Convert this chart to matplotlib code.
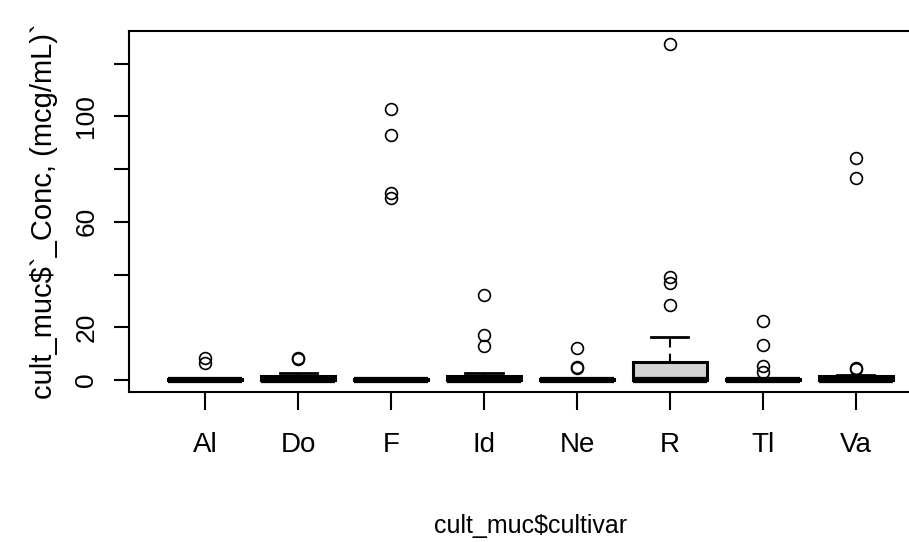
#Import Modules
import matplotlib
matplotlib.use("Agg")
import matplotlib.pyplot as plt

plt.rcParams['font.family'] = ['Liberation Sans', 'DejaVu Sans']

#Box statistics
cultivars = ["Al", "Do", "F", "Id", "Ne", "R", "Tl", "Va"]
q1 = [0, 0, 0, 0, 0, 0, 0, 0]
med = [0, 0, 0, 0, 0, 0, 0, 0]
q3 = [0.3, 1.5, 0.2, 1.4, 0.4, 7.0, 0.3, 1.5]
whislo = [0, 0, 0, 0, 0, 0, 0, 0]
whishi = [0.6, 2.6, 0.4, 2.5, 0.9, 16.4, 0.7, 2.0]
outliers = [
    [6.5, 8.5],
    [7.9, 8.3],
    [68.9, 70.8, 92.9, 102.7],
    [12.9, 17.1, 32.2],
    [4.6, 5.0, 12.0],
    [28.5, 36.9, 39.2, 127.3],
    [3.2, 5.3, 13.3, 22.4],
    [4.2, 4.6, 76.5, 84.1],
]
yticks = [0, 20, 40, 60, 80, 100, 120]
ytick_labels = ["0", "20", "", "60", "", "100", ""]

stats = []
for i in range(len(cultivars)):
    stats.append({"label": cultivars[i], "q1": q1[i], "med": med[i], "q3": q3[i],
                  "whislo": whislo[i], "whishi": whishi[i], "fliers": outliers[i]})

fig = plt.figure(figsize=(9.09, 5.42), dpi=100)
# plot region runs off the right edge like the original screenshot
ax = fig.add_axes([129 / 909, 150 / 542, 803 / 909, 361 / 542])

ax.bxp(stats, positions=range(1, 9), widths=0.8, patch_artist=True,
       boxprops=dict(facecolor="#d3d3d3", edgecolor="black", linewidth=2.2),
       medianprops=dict(color="black", linewidth=4.5, solid_capstyle="butt"),
       whiskerprops=dict(color="black", linewidth=1.5, linestyle=(0, (4, 3))),
       capprops=dict(color="black", linewidth=2.0),
       capwidths=0.4,
       flierprops=dict(marker="o", markerfacecolor="none", markeredgecolor="black",
                       markersize=8.5, markeredgewidth=1.2))

ax.set_xlim(0.18, 8.82)
ax.set_ylim(-4.55, 132.4)
ax.set_yticks(yticks, ytick_labels)
ax.set_xticks(range(1, 9), cultivars)

for s in ax.spines.values():
    s.set_linewidth(1.5)

ax.tick_params(axis="y", length=11, width=1.5, pad=11, labelsize=19, labelrotation=90)
ax.tick_params(axis="x", length=13, width=1.5, pad=16, labelsize=20)
for lab in ax.get_yticklabels():
    lab.set_verticalalignment("center")

ax.set_xlabel("cult_muc$cultivar", fontsize=18, labelpad=40)
ax.set_ylabel("cult_muc$`_Conc, (mcg/mL)`", fontsize=21, labelpad=12)

plt.savefig("out.png", dpi=100)
